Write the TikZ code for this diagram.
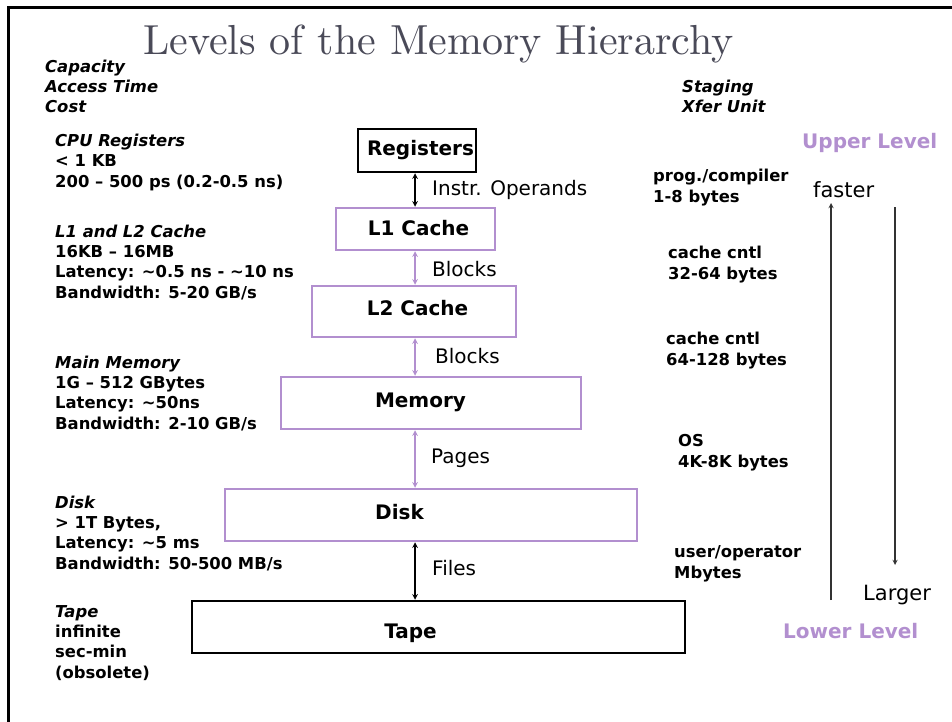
\documentclass[tikz,border=0pt]{standalone}
\usepackage{fontspec}
\newfontfamily\comicfont{DejaVu Sans}
\newfontfamily\titlefont{lmroman10-regular}[Extension=.otf]
\tikzset{>=stealth}
\definecolor{levelPurple}{RGB}{178,143,207}
\definecolor{titleGray}{RGB}{74,74,88}
\colorlet{penColor}{black}
\colorlet{sideArrow}{black!80}
\newcommand{\infofont}{\comicfont\bfseries\fontsize{16.4}{20.3}\selectfont}
\newcommand{\headit}[1]{{\itshape #1}}
\tikzset{
  levelbox/.style={draw=penColor, line width=2.5pt, inner sep=0pt},
  purplebox/.style={levelbox, draw=levelPurple},
  boxlabel/.style={anchor=base, inner sep=0pt, font=\comicfont\bfseries\fontsize{20}{24}\selectfont},
  flowlabel/.style={anchor=base west, inner sep=0pt, font=\comicfont\fontsize{20}{24}\selectfont},
  infotext/.style={anchor=base west, align=left, inner sep=0pt, font=\infofont},% base = last line
  levelname/.style={anchor=base west, inner sep=0pt, text=levelPurple, font=\comicfont\bfseries\fontsize{20}{24}\selectfont},
  flow/.style={<->, line width=1.5pt},
}

\begin{document}
\begin{tikzpicture}[x=1pt,y=-1pt]
\useasboundingbox (0,0) rectangle (952,722);
\draw[line width=3pt] (8,722) -- (8,8) -- (952,8);% slide frame
\node[anchor=base west, inner sep=0pt, text=titleGray, font=\titlefont\fontsize{42}{48}\selectfont] (title) at (143,55) {Levels of the Memory Hierarchy};

% the levels
\node[levelbox, minimum width=118, minimum height=43] (reg) at (417,150.5) {};
\node[purplebox, minimum width=159, minimum height=42] (lone) at (415.5,229) {};
\node[purplebox, minimum width=204, minimum height=51] (ltwo) at (414,311.5) {};
\node[purplebox, minimum width=300, minimum height=52] (mem) at (431,403) {};
\node[purplebox, minimum width=412, minimum height=52] (disk) at (431,515) {};
\node[levelbox, minimum width=493, minimum height=52] (tape) at (438.5,627) {};
\node[boxlabel] (regtxt) at (420.5,156) {Registers};
\node[boxlabel] (lonetxt) at (418.5,235) {L1 Cache};
\node[boxlabel] (ltwotxt) at (417.5,315) {L2 Cache};
\node[boxlabel] (memtxt) at (420.5,407) {Memory};
\node[boxlabel] (disktxt) at (399.5,519) {Disk};
\node[boxlabel] (tapetxt) at (410.5,638) {Tape};

% transfers between levels
\coordinate (ax) at (415,0);
\draw[flow] (reg.south -| ax) -- (lone.north -| ax);
\draw[flow, levelPurple] (lone.south -| ax) -- (ltwo.north -| ax);
\draw[flow, levelPurple] (ltwo.south -| ax) -- (mem.north -| ax);
\draw[flow, levelPurple] (mem.south -| ax) -- (disk.north -| ax);
\draw[flow] (disk.south -| ax) -- (tape.north -| ax);
\node[flowlabel] (opnd) at (432,196) {Instr. Operands};
\node[flowlabel] (blkone) at (432,276) {Blocks};
\node[flowlabel] (blktwo) at (435,363) {Blocks};
\node[flowlabel] (pages) at (431,463) {Pages};
\node[flowlabel] (files) at (432,575) {Files};

% left column
\node[infotext] (cap) at (45,113) {\headit{Capacity}\\ \headit{Access Time}\\ \headit{Cost}};
\node[infotext] (cpuinfo) at (55,187) {\headit{CPU Registers}\\ < 1 KB\\ 200 – 500 ps (0.2-0.5 ns)};
\node[infotext] (cacheinfo) at (55,298) {\headit{L1 and L2 Cache}\\ 16KB – 16MB\\ Latency: \textasciitilde0.5 ns - \textasciitilde10 ns\\ Bandwidth: 5-20 GB/s};
\node[infotext] (meminfo) at (55,429) {\headit{Main Memory}\\ 1G – 512 GBytes\\ Latency: \textasciitilde50ns\\ Bandwidth: 2-10 GB/s};
\node[infotext] (diskinfo) at (55,569) {\headit{Disk}\\ > 1T Bytes,\\ Latency: \textasciitilde5 ms\\ Bandwidth: 50-500 MB/s};
\node[infotext] (tapeinfo) at (55,678) {\headit{Tape}\\ infinite\\ sec-min\\ (obsolete)};

% right column
\node[infotext] (stage) at (682,113) {\headit{Staging}\\ \headit{Xfer Unit}};
\node[infotext] (xferone) at (653,202) {prog./compiler\\ 1-8 bytes};
\node[infotext] (xfertwo) at (668,279) {cache cntl\\ 32-64 bytes};
\node[infotext] (xferthree) at (666,365) {cache cntl\\ 64-128 bytes};
\node[infotext] (xferfour) at (678,467) {OS\\ 4K-8K bytes};
\node[infotext] (xferfive) at (674,578) {user/operator\\ Mbytes};

\node[levelname] (upper) at (802,149) {Upper Level};
\node[levelname] (lower) at (783,638) {Lower Level};
\node[flowlabel, font=\comicfont\fontsize{21}{24}\selectfont] (faster) at (813,197) {faster};
\node[flowlabel, font=\comicfont\fontsize{21}{24}\selectfont] (larger) at (863,600) {Larger};
\coordinate (upfoot) at (831,600);
\coordinate (uptip) at (831,203);
\coordinate (downtop) at (895,207);
\coordinate (downtip) at (895,565);
\draw[->, sideArrow, line width=1.3pt] (upfoot) -- (uptip);
\draw[->, sideArrow, line width=1.3pt] (downtop) -- (downtip);
\end{tikzpicture}
\end{document}
